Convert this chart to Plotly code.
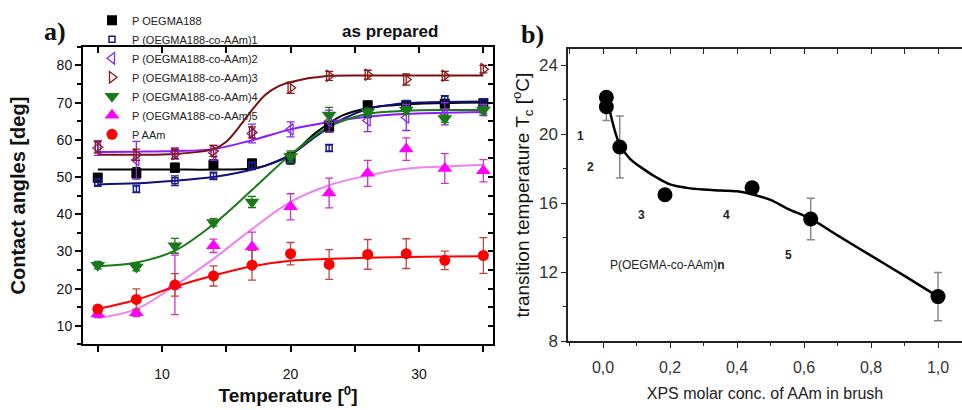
import plotly.graph_objects as go

# ---------------- Panel a data ----------------
temps = [5, 8, 11, 14, 17, 20, 23, 26, 29, 32, 35]

poegma = [49.8, 51.0, 52.5, 53.3, 53.6, 55.0, 63.5, 69.3, 69.3, 69.7, 69.8]
poegma_err = [1.2, 1.5, 1.2, 1.3, 1.2, 1.5, 1.5, 1.0, 1.0, 1.0, 1.0]
co1 = [48.5, 46.8, 49.0, 50.3, 53.0, 55.0, 57.8, 67.0, 69.6, 70.9, 70.1]
co1_err = [1.0, 1.0, 1.3, 1.0, 1.0, 1.2, 1.0, 1.0, 1.0, 1.0, 1.0]
co2 = [57.8, 54.6, 56.3, 56.5, 61.7, 62.8, 65.0, 65.2, 66.0, 67.0, 68.0]
co2_err = [2.0, 5.0, 1.5, 2.0, 2.5, 2.0, 3.0, 3.0, 3.5, 3.0, 1.5]
co3 = [58.0, 56.0, 56.2, 57.0, 62.0, 74.0, 77.2, 77.5, 76.2, 77.2, 79.0]
co3_err = [1.5, 1.5, 1.2, 1.5, 1.5, 1.5, 1.2, 1.2, 1.5, 1.2, 1.0]
co4 = [26.3, 25.8, 31.5, 37.8, 43.3, 55.5, 66.7, 67.5, 68.0, 65.7, 68.0]
co4_err = [1.0, 1.0, 2.0, 1.0, 1.5, 1.5, 2.0, 1.0, 1.0, 1.0, 1.0]
co5 = [13.2, 13.5, 21.0, 31.5, 31.2, 42.0, 45.7, 51.0, 57.5, 52.3, 51.7]
co5_err = [1.0, 1.0, 8.0, 1.8, 4.0, 3.5, 4.0, 3.5, 3.0, 4.0, 3.0]
paam = [14.5, 17.1, 21.0, 23.4, 26.3, 29.4, 26.5, 29.2, 29.4, 27.6, 28.9]
paam_err = [1.0, 2.8, 3.0, 2.7, 4.0, 3.0, 4.0, 4.0, 4.0, 2.5, 4.8]

# fitted curves
fit_t_poegma = [5, 8, 11, 14, 17, 18, 20, 22, 24, 26, 28, 30, 35]
fit_poegma = [52.0, 52.0, 52.0, 52.0, 52.3, 53.0, 56.0, 62.0, 66.5, 68.5, 69.3, 69.7, 70.0]
fit_t_co1 = [5, 8, 11, 14, 16, 18, 20, 22, 24, 26, 28, 30, 35]
fit_co1 = [48.0, 48.3, 49.0, 50.0, 51.2, 53.0, 56.0, 61.0, 65.5, 68.3, 69.5, 70.0, 70.3]
fit_t_co2 = [5, 8, 11, 14, 17, 20, 23, 26, 29, 32, 35]
fit_co2 = [56.7, 56.8, 57.0, 57.5, 59.9, 62.8, 64.8, 66.2, 67.0, 67.3, 67.5]
fit_t_co3 = [5, 8, 11, 14, 15, 16, 17, 18, 19, 20, 21, 22, 23, 26, 29, 32, 35]
fit_co3 = [56.0, 56.0, 56.2, 57.5, 59.5, 63.5, 68.0, 72.0, 74.3, 75.5, 76.3, 76.8, 77.2, 77.3, 77.3, 77.3, 77.3]
fit_t_co4 = [5, 8, 11, 14, 17, 20, 23, 26, 29, 32, 35]
fit_co4 = [26.0, 27.0, 30.2, 37.3, 46.5, 56.0, 63.5, 67.0, 67.8, 68.0, 68.0]
fit_t_co5 = [5, 8, 11, 14, 17, 20, 23, 26, 29, 32, 35]
fit_co5 = [12.1, 14.5, 20.8, 28.0, 36.0, 43.3, 47.8, 50.4, 52.2, 52.8, 53.3]
fit_t_paam = [5, 8, 11, 14, 17, 20, 23, 26, 29, 32, 35]
fit_paam = [14.5, 17.0, 20.5, 23.5, 26.0, 27.5, 28.0, 28.3, 28.5, 28.6, 28.7]

# ---------------- Panel b data ----------------
xps = [0.01, 0.01, 0.05, 0.185, 0.445, 0.62, 1.0]
tc = [22.15, 21.6, 19.27, 16.5, 16.9, 15.1, 10.6]
tc_err = [0.0, 0.8, 1.8, 0.0, 0.0, 1.2, 1.4]
fit_xps = [0.02, 0.05, 0.08, 0.12, 0.16, 0.2, 0.25, 0.3, 0.35, 0.4, 0.45, 0.5, 0.55, 0.62, 0.7, 0.8, 0.9, 1.0]
fit_tc = [21.4, 19.4, 18.6, 18.0, 17.5, 17.1, 16.9, 16.8, 16.75, 16.7, 16.5, 16.2, 15.7, 15.1, 14.15, 12.97, 11.8, 10.6]

b_xticks = [0.0, 0.2, 0.4, 0.6, 0.8, 1.0]
b_xticktext = ["0,0", "0,2", "0,4", "0,6", "0,8", "1,0"]

series = [
    ("P OEGMA188", poegma, poegma_err, fit_t_poegma, fit_poegma,
     dict(symbol="square", size=10, color="#000000"), "#000000", "#000000"),
    ("P (OEGMA188-co-AAm)1", co1, co1_err, fit_t_co1, fit_co1,
     dict(symbol="square-open", size=6, color="#1a1a8a", line=dict(width=1.5)), "#10107a", "#1a1a8a"),
    ("P (OEGMA188-co-AAm)2", co2, co2_err, fit_t_co2, fit_co2,
     dict(symbol="triangle-left-open", size=10, color="#8a2be2", line=dict(width=1.3)), "#8a1aff", "#8a2be2"),
    ("P (OEGMA188-co-AAm)3", co3, co3_err, fit_t_co3, fit_co3,
     dict(symbol="triangle-right-open", size=10, color="#8b1a1a", line=dict(width=1.3)), "#7a0f0f", "#8b1a1a"),
    ("P (OEGMA188-co-AAm)4", co4, co4_err, fit_t_co4, fit_co4,
     dict(symbol="triangle-down", size=13, color="#1a7a1a"), "#1a7a1a", "#1a7a1a"),
    ("P (OEGMA188-co-AAm)5", co5, co5_err, fit_t_co5, fit_co5,
     dict(symbol="triangle-up", size=13, color="#ff00ff"), "#ee82ee", "#cc33cc"),
    ("P AAm", paam, paam_err, fit_t_paam, fit_paam,
     dict(symbol="circle", size=11, color="#ff0000"), "#ff0000", "#c04545"),
]

fig = go.Figure()

# fit lines first (below markers)
for name, ys, errs, ft, fy, mk, lc, ec in series:
    fig.add_trace(go.Scatter(x=ft, y=fy, mode="lines", line=dict(color=lc, width=2, shape="spline"),
                             showlegend=False, hoverinfo="skip", xaxis="x", yaxis="y"))
for name, ys, errs, ft, fy, mk, lc, ec in series:
    fig.add_trace(go.Scatter(x=temps, y=ys, mode="markers", name=name, marker=mk,
                             error_y=dict(type="data", array=errs, color=ec, thickness=1.3, width=4),
                             xaxis="x", yaxis="y"))

# panel b
fig.add_trace(go.Scatter(x=fit_xps, y=fit_tc, mode="lines", line=dict(color="black", width=2.5, shape="spline"),
                         showlegend=False, xaxis="x2", yaxis="y2"))
fig.add_trace(go.Scatter(x=xps, y=tc, mode="markers", marker=dict(symbol="circle", size=15, color="black"),
                         error_y=dict(type="data", array=tc_err, color="#888888", thickness=1.5, width=4),
                         showlegend=False, xaxis="x2", yaxis="y2"))

# empty traces for mirrored inward-tick axes
fig.add_trace(go.Scatter(x=[], y=[], xaxis="x3", yaxis="y3", showlegend=False))
fig.add_trace(go.Scatter(x=[], y=[], xaxis="x4", yaxis="y4", showlegend=False))

ARIAL = "Liberation Sans, Arial, sans-serif"
ax_a = dict(showline=True, linecolor="black", linewidth=2, ticks="outside", tickcolor="black",
            tickwidth=1.5, ticklen=6, showgrid=False, zeroline=False,
            tickfont=dict(family=ARIAL, size=14, color="#111"))

xa_range = [3.85, 35.75]
ya_range = [5, 85]
xb_range = [-0.1045, 1.0716]
yb_range = [8, 24.96]
dom_ax = [83 / 962, 493 / 962]
dom_ay = [1 - 353 / 410, 1 - 48 / 410]
dom_bx = [568 / 962, 1.0]
dom_by = [1 - 350 / 410, 1 - 50 / 410]

fig.update_layout(
    width=962, height=410, margin=dict(l=0, r=0, t=0, b=0),
    paper_bgcolor="white", plot_bgcolor="white",
    xaxis=dict(ax_a, domain=dom_ax, range=xa_range, anchor="y", tick0=0, dtick=10, ticklabelstandoff=10,
               minor=dict(dtick=5, ticks="outside", ticklen=6, tickcolor="black", tickwidth=1.5),
               title=dict(text="<b>Temperature [<sup>0</sup>]</b>", font=dict(family=ARIAL, size=19, color="#111"),
                          standoff=8)),
    yaxis=dict(ax_a, domain=dom_ay, range=ya_range, anchor="x", tick0=0, dtick=10,
               minor=dict(dtick=5, ticks="outside", ticklen=4, tickcolor="black", tickwidth=1.5),
               title=dict(text="<b>Contact angles [deg]</b>", font=dict(family=ARIAL, size=20, color="#111"),
                          standoff=26)),
    xaxis3=dict(domain=dom_ax, range=xa_range, overlaying="x", side="top", anchor="y3", showline=True,
                linecolor="black", linewidth=2, ticks="inside", tickcolor="black", tickwidth=1.5, ticklen=6,
                tick0=0, dtick=5, showticklabels=False, showgrid=False, zeroline=False),
    yaxis3=dict(domain=dom_ay, range=ya_range, overlaying="y", side="right", anchor="x3", showline=True,
                linecolor="black", linewidth=2, ticks="inside", tickcolor="black", tickwidth=1.5, ticklen=5,
                tick0=0, dtick=5, showticklabels=False, showgrid=False, zeroline=False),
    xaxis2=dict(domain=dom_bx, range=xb_range, anchor="y2", showline=True, linecolor="#222", linewidth=1.5,
                ticks="outside", tickcolor="#222", ticklen=5, tickwidth=1.2, showgrid=False, zeroline=False,
                tickvals=b_xticks, ticktext=b_xticktext, ticklabelstandoff=6,
                minor=dict(dtick=0.1, tick0=0.1, ticks="outside", ticklen=3, tickcolor="#222"),
                tickfont=dict(family=ARIAL, size=16, color="#333"),
                title=dict(text="XPS molar conc. of AAm in brush", font=dict(family=ARIAL, size=16, color="#222"),
                           standoff=12)),
    yaxis2=dict(domain=dom_by, range=yb_range, anchor="x2", showline=True, linecolor="#222", linewidth=1.5,
                ticks="outside", tickcolor="#222", ticklen=5, tickwidth=1.2, showgrid=False, zeroline=False,
                tick0=0, dtick=4,
                minor=dict(dtick=2, ticks="outside", ticklen=3, tickcolor="#222"),
                tickfont=dict(family=ARIAL, size=17, color="#333"),
                title=dict(text="transition temperature T<sub>c</sub> [<sup>o</sup>C]",
                           font=dict(family=ARIAL, size=19, color="#111"), standoff=4)),
    xaxis4=dict(domain=dom_bx, range=xb_range, overlaying="x2", side="top", anchor="y4", showline=True,
                linecolor="#222", linewidth=1.5, ticks="inside", tickcolor="#222", ticklen=5, tickwidth=1.2,
                tick0=0, dtick=0.1, showticklabels=False, showgrid=False, zeroline=False),
    yaxis4=dict(domain=dom_by, range=yb_range, overlaying="y2", anchor="x4", visible=False),
    legend=dict(x=92 / 962, y=1 - 6 / 410, xanchor="left", yanchor="top", bgcolor="rgba(0,0,0,0)",
                font=dict(family=ARIAL, size=11, color="#222"), tracegroupgap=0, itemwidth=30),
    showlegend=True,
)

ann = [
    dict(text="<b>a)</b>", x=55 / 962, y=1 - 32 / 410, font=dict(family="Liberation Serif, serif", size=26, color="#111")),
    dict(text="<b>as prepared</b>", x=390 / 962, y=1 - 32 / 410, font=dict(family=ARIAL, size=17, color="#111")),
    dict(text="<b>b)</b>", x=532 / 962, y=1 - 35 / 410, font=dict(family="Liberation Serif, serif", size=26, color="#111")),
]
for a in ann:
    fig.add_annotation(xref="paper", yref="paper", showarrow=False, xanchor="center", yanchor="middle", **a)

b_labels = [("1", -0.066, 19.9), ("2", -0.036, 18.1), ("3", 0.116, 15.3), ("4", 0.37, 15.3), ("5", 0.555, 13.0)]
for t, x, y in b_labels:
    fig.add_annotation(xref="x2", yref="y2", x=x, y=y, text="<b>%s</b>" % t, showarrow=False,
                       font=dict(family=ARIAL, size=12, color="#222"))
fig.add_annotation(xref="x2", yref="y2", x=0.015, y=12.45, xanchor="left", text="P(OEGMA-co-AAm)<b>n</b>",
                   showarrow=False, font=dict(family=ARIAL, size=12, color="#222"))

fig.write_html("out.html", post_script="document.body.style.margin='0';",
               config={"displayModeBar": False})
